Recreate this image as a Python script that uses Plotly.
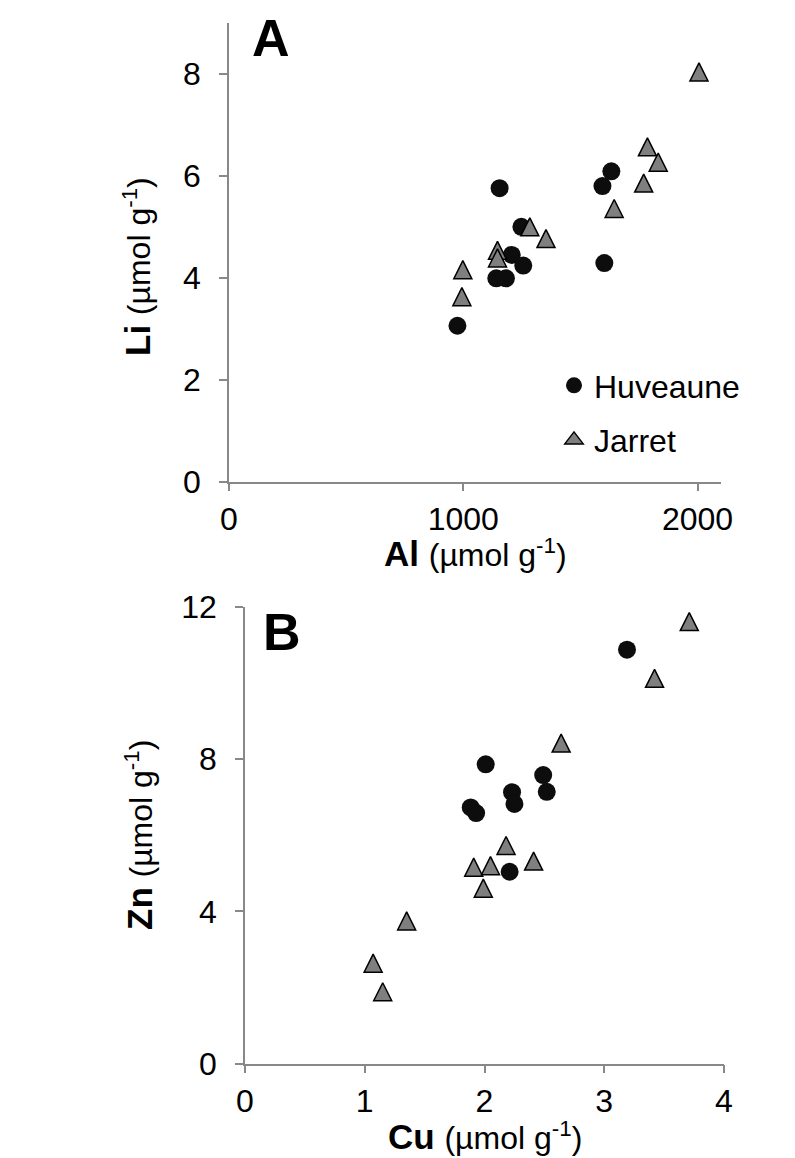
import plotly.graph_objects as go

W, H = 795, 1158

# ---- Panel A: Li vs Al (µmol g-1) ----
al_huveaune = [1155, 1248, 1207, 1256, 1141, 1182, 1594, 1632, 1602, 975]
li_huveaune = [5.76, 5.00, 4.45, 4.24, 3.99, 3.99, 5.80, 6.09, 4.29, 3.06]
al_jarret = [2006, 1786, 1832, 1770, 1644, 1284, 1353, 1146, 1146, 998, 994]
li_jarret = [8.04, 6.57, 6.27, 5.86, 5.36, 5.00, 4.77, 4.54, 4.39, 4.16, 3.63]

# ---- Panel B: Zn vs Cu (µmol g-1) ----
cu_huveaune = [3.19, 2.01, 2.49, 2.52, 2.23, 2.25, 1.885, 1.93, 2.21]
zn_huveaune = [10.87, 7.86, 7.58, 7.14, 7.13, 6.82, 6.73, 6.58, 5.04]
cu_jarret = [3.71, 3.42, 2.64, 2.18, 2.41, 1.91, 2.05, 1.99, 1.35, 1.07, 1.15]
zn_jarret = [11.61, 10.12, 8.42, 5.73, 5.32, 5.16, 5.20, 4.61, 3.75, 2.64, 1.89]

series_names = ["Huveaune", "Jarret"]
a_xticks = [0, 1000, 2000]
a_yticks = [0, 2, 4, 6, 8]
b_xticks = [0, 1, 2, 3, 4]
b_yticks = [0, 4, 8, 12]
a_xrange, a_yrange = [0, 2100], [0, 9]
b_xrange, b_yrange = [0, 4], [0, 12]

FONT = "Liberation Sans, Arial, sans-serif"
AXIS_GREY = "#888888"
TRI_GREY = "#7f7f7f"
DOT = "#0d0d0d"
MARK = 18

# plot boxes in px: left, right, top, bottom
A_BOX = (229, 721, 23, 481.7)
B_BOX = (245, 724, 606.7, 1063.7)


def xdom(b):
    return [b[0] / W, b[1] / W]


def ydom(b):
    return [(H - b[3]) / H, (H - b[2]) / H]


def half_marker(box, yr):
    # half a marker height expressed in data units of that panel
    return (MARK / 2) * (yr[1] - yr[0]) / (box[3] - box[2])


dA = half_marker(A_BOX, a_yrange)
dB = half_marker(B_BOX, b_yrange)

circle_marker = dict(symbol="circle", size=MARK, color=DOT, line=dict(width=0))
tri_marker = dict(symbol="arrow-up", size=MARK, color=TRI_GREY,
                  line=dict(color="black", width=1.5))

fig = go.Figure()
fig.add_trace(go.Scatter(x=al_huveaune, y=li_huveaune, mode="markers",
                         marker=circle_marker, xaxis="x", yaxis="y",
                         showlegend=False))
fig.add_trace(go.Scatter(x=al_jarret, y=li_jarret, mode="markers",
                         marker=tri_marker, xaxis="x", yaxis="y3",
                         showlegend=False))
fig.add_trace(go.Scatter(x=cu_huveaune, y=zn_huveaune, mode="markers",
                         marker=circle_marker, xaxis="x2", yaxis="y2",
                         showlegend=False))
fig.add_trace(go.Scatter(x=cu_jarret, y=zn_jarret, mode="markers",
                         marker=tri_marker, xaxis="x2", yaxis="y4",
                         showlegend=False))

# legend entries
fig.add_trace(go.Scatter(x=[None], y=[None], mode="markers", name=series_names[0],
                         legendgroup="h", marker=dict(symbol="circle", size=16, color=DOT),
                         xaxis="x", yaxis="y"))
fig.add_trace(go.Scatter(x=[None], y=[None], mode="markers", name=series_names[1],
                         legendgroup="j",
                         marker=dict(symbol="triangle-up", size=16, color=TRI_GREY,
                                     line=dict(color="black", width=1.5)),
                         xaxis="x", yaxis="y"))

axis_common = dict(showline=True, linecolor=AXIS_GREY, linewidth=1.5,
                   ticks="outside", ticklen=8, tickwidth=1.5, tickcolor=AXIS_GREY,
                   showgrid=False, zeroline=False, automargin=False,
                   tickfont=dict(family=FONT, size=32, color="black"))

fig.update_layout(
    width=W, height=H,
    margin=dict(l=0, r=0, t=0, b=0, autoexpand=False),
    paper_bgcolor="white", plot_bgcolor="rgba(0,0,0,0)",
    font=dict(family=FONT, color="black"),
    xaxis=dict(domain=xdom(A_BOX), range=a_xrange, tickvals=a_xticks, anchor="y",
               **axis_common),
    yaxis=dict(domain=ydom(A_BOX), range=a_yrange, tickvals=a_yticks, anchor="x",
               ticklabelstandoff=12, **axis_common),
    yaxis3=dict(overlaying="y", anchor="x", range=[a_yrange[0] - dA, a_yrange[1] - dA],
                visible=False, automargin=False),
    xaxis2=dict(domain=xdom(B_BOX), range=b_xrange, tickvals=b_xticks, anchor="y2",
                **axis_common),
    yaxis2=dict(domain=ydom(B_BOX), range=b_yrange, tickvals=b_yticks, anchor="x2",
                ticklabelstandoff=12, **axis_common),
    yaxis4=dict(overlaying="y2", anchor="x2", range=[b_yrange[0] - dB, b_yrange[1] - dB],
                visible=False, automargin=False),
    legend=dict(x=554 / W, y=(H - 358) / H, xanchor="left", yanchor="top",
                font=dict(family=FONT, size=32, color="black"),
                bgcolor="rgba(0,0,0,0)", tracegroupgap=10, itemsizing="trace"),
)

unit = '<span style="font-size:32px">(µmol g<sup>-1</sup>)</span>'


def px(x, y):
    return x / W, (H - y) / H


annots = [
    # panel letters
    (px(271, 38), "<b>A</b>", 52, 0),
    (px(282, 632), "<b>B</b>", 52, 0),
    # axis titles
    (px(475, 553), "<b>Al</b> " + unit, 35, 0),
    (px(137, 267), "<b>Li</b> " + unit, 35, -90),
    (px(485, 1136), "<b>Cu</b> " + unit, 35, 0),
    (px(139, 835), "<b>Zn</b> " + unit, 35, -90),
]
for (ax, ay), text, size, ang in annots:
    fig.add_annotation(x=ax, y=ay, xref="paper", yref="paper", text=text,
                       showarrow=False, xanchor="center", yanchor="middle",
                       textangle=ang, font=dict(family=FONT, size=size, color="black"))

fig.write_html("out.html")
